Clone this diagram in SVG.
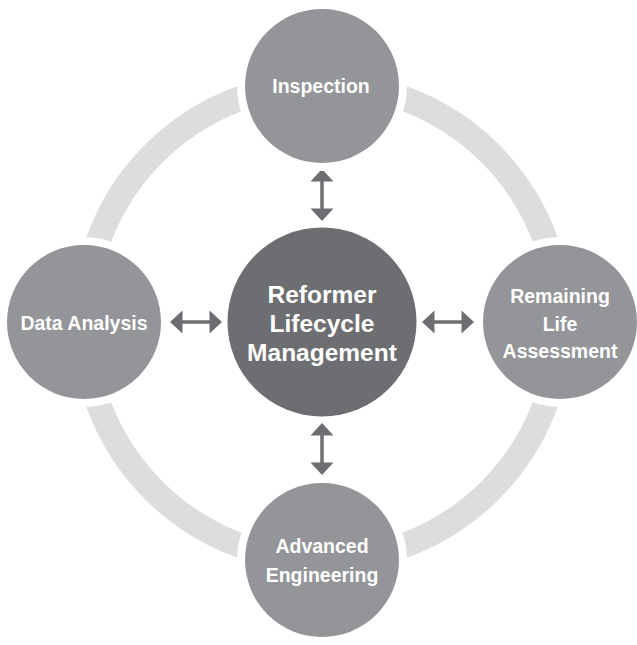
<svg xmlns="http://www.w3.org/2000/svg" width="637" height="645" viewBox="0 0 637 645">
<style>
.ring{fill:none;stroke:#dcddde;stroke-width:25}
.halo{fill:#ffffff}
.outer{fill:#939598}
.core{fill:#6d6e71}
.arrow{fill:#6d6e71}
.t{font-family:"Liberation Sans",Arial,sans-serif;font-weight:bold;fill:#ffffff;text-anchor:middle}
.ts{font-size:19.5px}
.tc{font-size:24.5px}
</style>
<defs>
<path id="varrow" d="M0,-26 L11.5,-13.5 L1.75,-13.5 L1.75,13.5 L11.5,13.5 L0,26 L-11.5,13.5 L-1.75,13.5 L-1.75,-13.5 L-11.5,-13.5 Z"/>
<path id="harrow" d="M-26,0 L-13.5,-11.5 L-13.5,-1.75 L13.5,-1.75 L13.5,-11.5 L26,0 L13.5,11.5 L13.5,1.75 L-13.5,1.75 L-13.5,11.5 Z"/>
</defs>
<circle class="ring" cx="322" cy="322" r="238"/>
<g id="connectors" class="arrow">
<use href="#varrow" x="322" y="195"/>
<use href="#varrow" x="322" y="449"/>
<use href="#harrow" x="196" y="322"/>
<use href="#harrow" x="448" y="322"/>
</g>
<g id="node-inspection">
<circle class="halo" cx="322" cy="86" r="85"/>
<circle class="outer" cx="322" cy="86" r="77"/>
<text class="t ts" x="321" y="93">Inspection</text>
</g>
<g id="node-data-analysis">
<circle class="halo" cx="84" cy="322" r="85"/>
<circle class="outer" cx="84" cy="322" r="77"/>
<text class="t ts" x="84" y="330">Data Analysis</text>
</g>
<g id="node-remaining-life">
<circle class="halo" cx="560" cy="322" r="85"/>
<circle class="outer" cx="560" cy="322" r="77"/>
<text class="t ts" x="560" y="303">Remaining</text>
<text class="t ts" x="560" y="331">Life</text>
<text class="t ts" x="560" y="358">Assessment</text>
</g>
<g id="node-advanced-engineering">
<circle class="halo" cx="322" cy="560" r="85"/>
<circle class="outer" cx="322" cy="560" r="77"/>
<text class="t ts" x="322" y="553">Advanced</text>
<text class="t ts" x="322" y="582">Engineering</text>
</g>
<g id="node-center">
<circle class="core" cx="322" cy="322" r="94.5"/>
<text class="t tc" x="322" y="303">Reformer</text>
<text class="t tc" x="322" y="332">Lifecycle</text>
<text class="t tc" x="322" y="361">Management</text>
</g>
</svg>
